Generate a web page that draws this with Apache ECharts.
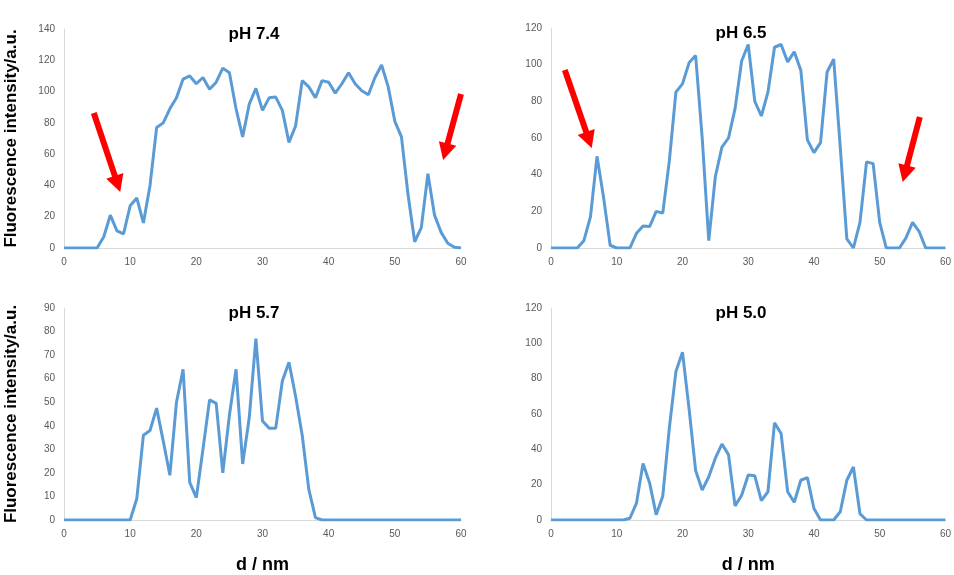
<!DOCTYPE html>
<html>
<head>
<meta charset="utf-8">
<script src="https://cdn.jsdelivr.net/npm/echarts@6/dist/echarts.min.js"></script>
<style>
  html, body { margin: 0; padding: 0; background: #fff; }
  #main { width: 954px; height: 575px; }
</style>
</head>
<body>
<div id="main"></div>
<script>
var myChart = echarts.init(document.getElementById('main'));

// d / nm, one point per nm from 0 to 60
var ph74 = [0, 0, 0, 0, 0, 0, 7, 21, 11, 9, 27, 32, 16, 40, 77, 80, 89, 96, 108, 110,
    105, 109, 101.5, 106, 115, 112, 89, 71, 92, 102, 88, 96, 96.5, 88, 67.5, 78, 107, 103, 96, 107,
    106, 99, 105, 112, 105, 100.5, 98, 109, 117, 103, 81, 71, 34, 4, 13, 47.5, 21, 10, 3, 0.5, 0];
var ph65 = [0, 0, 0, 0, 0, 4, 17, 50, 27.5, 1.5, 0, 0, 0, 8, 12, 11.7, 20, 19, 47.5, 85,
    89.5, 101, 105, 60, 4, 39, 55, 60, 76, 102, 111, 80, 72, 85, 109.5, 111, 101.5, 107, 97, 59,
    52, 57.5, 96, 103, 55, 5, 0, 14, 47, 46, 14, 0, 0, 0, 5.5, 14, 9, 0, 0, 0, 0];
var ph57 = [0, 0, 0, 0, 0, 0, 0, 0, 0, 0, 0, 9, 36, 38, 47.5, 33.5, 19, 50, 64, 16,
    9.5, 30, 51, 49.5, 20, 44.5, 64, 23.8, 43.5, 77, 42, 39, 39, 59, 67, 52.5, 36, 13, 1, 0,
    0, 0, 0, 0, 0, 0, 0, 0, 0, 0, 0, 0, 0, 0, 0, 0, 0, 0, 0, 0, 0];
var ph50 = [0, 0, 0, 0, 0, 0, 0, 0, 0, 0, 0, 0, 1, 9.5, 32, 21, 3, 13.5, 52, 84,
    95, 63, 28, 17, 24.5, 35, 43, 37, 8, 14, 25.5, 25, 11, 16, 55, 49, 16, 10, 22.5, 24,
    6.5, 0, 0, 0, 4.7, 22.5, 30, 3.5, 0, 0, 0, 0, 0, 0, 0, 0, 0, 0, 0, 0, 0];

var panelTitles = ['pH 7.4', 'pH 6.5', 'pH 5.7', 'pH 5.0'];
var yMax = [140, 120, 90, 120];
var yStep = [20, 20, 10, 20];
var xTicks = [0, 60, 10];

// arrows in data coords of each top panel: [grid, tailX, tailY, tipX, tipY]
var arrows = [
    [0, 4.5, 86.3, 8.5, 35.8],
    [0, 60, 98.5, 57.3, 56.3],
    [1, 2.1, 97.1, 6.2, 54.5],
    [1, 56.1, 71.5, 53.5, 36]
];

var allData = [ph74, ph65, ph57, ph50];

var grids = [
    { left: 64, top: 29, width: 397, height: 219 },
    { left: 551, top: 28, width: 395, height: 220 },
    { left: 64, top: 308, width: 397, height: 220 },
    { left: 551, top: 308, width: 395, height: 220 }
];

var axisFont = 'Liberation Sans';
var xAxes = [], yAxes = [], series = [], graphics = [];

for (var i = 0; i < 4; i++) {
    var bottomRow = i >= 2;
    var leftCol = i % 2 === 0;
    xAxes.push({
        gridIndex: i,
        type: 'value',
        min: xTicks[0],
        max: xTicks[1],
        interval: xTicks[2],
        name: bottomRow ? 'd / nm' : '',
        nameLocation: 'middle',
        nameGap: 36,
        nameTextStyle: { fontFamily: axisFont, fontWeight: 'bold', fontSize: 18, color: '#000' },
        axisLine: { lineStyle: { color: '#d9d9d9', width: 1 } },
        axisTick: { show: false },
        splitLine: { show: false },
        axisLabel: { color: '#595959', fontSize: 10, fontFamily: axisFont, margin: 9 }
    });
    yAxes.push({
        gridIndex: i,
        type: 'value',
        min: 0,
        max: yMax[i],
        interval: yStep[i],
        name: leftCol ? 'Fluorescence intensity/a.u.' : '',
        nameLocation: 'middle',
        nameRotate: 90,
        nameGap: 44,
        nameTextStyle: { fontFamily: axisFont, fontWeight: 'bold', fontSize: 17, color: '#000' },
        axisLine: { show: true, lineStyle: { color: '#d9d9d9', width: 1 } },
        axisTick: { show: false },
        splitLine: { show: false },
        axisLabel: { color: '#595959', fontSize: 10, fontFamily: axisFont, margin: 9 }
    });
    series.push({
        type: 'line',
        xAxisIndex: i,
        yAxisIndex: i,
        data: allData[i].map(function (v, k) { return [k, v]; }),
        showSymbol: false,
        smooth: false,
        lineStyle: { color: '#5b9bd5', width: 3 },
        silent: true
    });
    graphics.push({
        type: 'text',
        x: grids[i].left + 190,
        y: grids[i].top + 5,
        style: {
            text: panelTitles[i],
            font: 'bold 17px "Liberation Sans"',
            fill: '#000',
            textAlign: 'center',
            textVerticalAlign: 'middle'
        }
    });
}

option = {
    backgroundColor: '#fff',
    animation: false,
    grid: grids,
    xAxis: xAxes,
    yAxis: yAxes,
    series: series,
    graphic: graphics
};
myChart.setOption(option);

// red arrows: shaft plus head polygon
function arrowShape(p0, p1) {
    var dx = p1[0] - p0[0], dy = p1[1] - p0[1];
    var len = Math.sqrt(dx * dx + dy * dy);
    var ux = dx / len, uy = dy / len;
    var nx = -uy, ny = ux;
    var shaft = 3, head = 9, headLen = 17;
    var bx = p1[0] - ux * headLen, by = p1[1] - uy * headLen;
    return [
        [p0[0] + nx * shaft, p0[1] + ny * shaft],
        [bx + nx * shaft, by + ny * shaft],
        [bx + nx * head, by + ny * head],
        p1,
        [bx - nx * head, by - ny * head],
        [bx - nx * shaft, by - ny * shaft],
        [p0[0] - nx * shaft, p0[1] - ny * shaft]
    ];
}

arrows.forEach(function (a) {
    var tail = myChart.convertToPixel({ gridIndex: a[0] }, [a[1], a[2]]);
    var tip = myChart.convertToPixel({ gridIndex: a[0] }, [a[3], a[4]]);
    graphics.push({
        type: 'polygon',
        shape: { points: arrowShape(tail, tip) },
        style: { fill: '#ff0000' },
        z: 100
    });
});
myChart.setOption({ graphic: graphics });
</script>
</body>
</html>
